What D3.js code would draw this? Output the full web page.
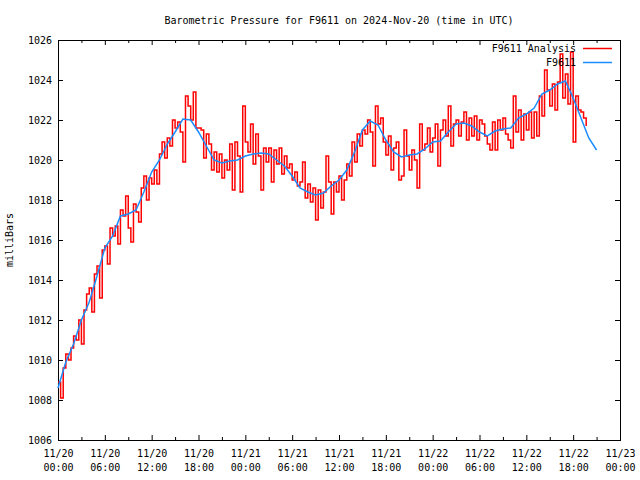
<!DOCTYPE html>
<html><head><meta charset="utf-8">
<script src="https://cdn.jsdelivr.net/npm/d3@7"></script>
<style>
body{margin:0;background:#fff}
svg{display:block}
text{font-family:"DejaVu Sans Mono","Liberation Mono",monospace;font-size:10px;fill:#000}
</style>
</head><body><svg id="c" width="640" height="480"></svg>
<script>
const chartTitle = "Barometric Pressure for F9611 on 2024-Nov-20 (time in UTC)";
const yAxisLabel = "milliBars";
const seriesNames = ["F9611 Analysis", "F9611"];
const xDomain = ["2024-11-20T00:00:00Z", "2024-11-23T00:00:00Z"];
const yDomain = [1006, 1026];
const yTickValues = [1006, 1008, 1010, 1012, 1014, 1016, 1018, 1020, 1022, 1024, 1026];
const xMajorHours = 6, xMinorHours = 3;

// F9611 Analysis: one value every 20 minutes from 11/20 00:00
const analysisStart = "2024-11-20T00:00:00Z";
const analysisStepMinutes = 20;
const analysisValues = [
1008.9,1008.1,1009.6, 1010.3,1010.0,1010.6, 1011.2,1011.0,1012.0, 1010.8,1012.5,1013.3,
1013.6,1012.4,1014.3, 1014.7,1013.1,1015.5, 1015.7,1014.8,1016.6, 1016.2,1016.7,1015.8,
1017.5,1017.2,1018.2, 1016.6,1015.9,1017.8, 1017.4,1016.9,1018.6, 1019.2,1018.0,1019.1,
1018.8,1019.5,1018.8, 1020.3,1020.9,1020.1, 1021.1,1020.7,1022.0, 1021.6,1021.9,1021.4,
1019.9,1023.2,1022.7, 1022.0,1023.4,1021.6, 1021.6,1021.5,1020.1, 1021.3,1020.8,1019.5,
1020.4,1019.4,1020.3, 1019.1,1020.0,1019.5, 1020.8,1018.5,1020.9, 1020.2,1018.4,1022.7,
1020.9,1020.4,1021.8, 1019.8,1021.3,1020.2, 1018.5,1020.6,1019.9, 1020.6,1018.9,1020.5,
1019.8,1020.6,1019.3, 1020.2,1019.6,1019.8, 1019.0,1019.4,1018.7, 1018.9,1019.9,1018.1,
1018.8,1017.9,1018.6, 1017.0,1018.5,1017.6, 1018.4,1020.2,1018.9, 1017.3,1018.9,1018.4,
1019.2,1018.0,1019.0, 1019.8,1019.2,1020.9, 1019.9,1021.3,1020.7, 1021.5,1021.3,1022.0,
1021.4,1019.7,1022.7, 1021.8,1022.1,1020.9, 1020.25,1021.2,1019.5, 1020.6,1020.9,1019.0,
1019.2,1021.5,1020.2, 1019.5,1020.5,1020.0, 1018.6,1021.8,1020.5, 1020.8,1021.6,1020.4,
1021.1,1021.8,1019.7, 1021.5,1022.0,1021.2, 1022.7,1020.7,1021.8, 1022.0,1021.2,1021.9,
1022.4,1021.0,1022.1, 1021.2,1022.2,1021.0, 1022.0,1021.8,1021.2, 1020.8,1020.5,1021.9,
1020.5,1022.0,1021.5, 1022.1,1021.3,1021.0, 1020.6,1023.2,1021.4, 1022.5,1021.0,1022.3,
1021.5,1022.4,1021.1, 1022.4,1021.2,1023.2, 1022.2,1024.5,1023.5, 1022.7,1023.8,1022.5,
1023.9,1025.3,1023.1, 1024.3,1022.8,1025.4, 1020.9,1023.2,1022.5, 1022.4,1022.1,1021.7
];

// F9611 station: one value every hour from 11/20 00:00
const stationStart = "2024-11-20T00:00:00Z";
const stationStepMinutes = 60;
const stationValues = [
1008.6,1009.9,1010.8,1012.0,1012.9,1014.2,1015.6,1016.2,1017.2,1017.3,
1017.5,1018.4,1019.4,1020.0,1020.8,1021.4,1022.05,1022.0,1021.4,1020.7,
1020.0,1019.85,1019.95,1020.0,1020.2,1020.3,1020.35,1020.3,1020.0,1019.7,
1019.2,1018.6,1018.4,1018.25,1018.35,1018.7,1019.0,1019.5,1020.4,1021.5,
1021.95,1021.75,1021.0,1020.4,1020.15,1020.25,1020.3,1020.55,1020.9,1020.95,
1021.4,1021.8,1021.85,1021.7,1021.4,1021.2,1021.45,1021.55,1021.6,1022.1,
1022.3,1022.6,1023.3,1023.5,1023.8,1023.95,1023.1,1022.1,1021.1,1020.5
];

const colors = ["#ff0000", "#1a8cff"];

const m = {left: 58, right: 620, top: 40, bottom: 440};
const svg = d3.select("#c");

const x = d3.scaleUtc().domain(xDomain.map(d => new Date(d))).range([m.left, m.right]);
const y = d3.scaleLinear().domain(yDomain).range([m.bottom, m.top]);

function toSeries(start, stepMin, vals) {
  const t0 = new Date(start).getTime();
  return vals.map((v, i) => ({t: new Date(t0 + i * stepMin * 60000), v}));
}
const analysis = toSeries(analysisStart, analysisStepMinutes, analysisValues);
const station = toSeries(stationStart, stationStepMinutes, stationValues);

const majorTicks = d3.utcHour.every(xMajorHours).range(x.domain()[0], new Date(x.domain()[1].getTime() + 1));
const minorTicks = d3.utcHour.every(xMinorHours).range(x.domain()[0], new Date(x.domain()[1].getTime() + 1))
  .filter(d => d.getUTCHours() % xMajorHours !== 0);

// Axes
const gB = svg.append("g").attr("transform", `translate(0,${m.bottom})`)
  .call(d3.axisBottom(x).tickValues(majorTicks).tickSizeInner(-5).tickSizeOuter(0).tickFormat(""));
gB.selectAll(".tick").each(function(d) {
  const t = d3.select(this).select("text");
  t.attr("y", null).attr("dy", null);
  t.append("tspan").attr("x", 0).attr("y", 17).text(d3.utcFormat("%m/%d")(d));
  t.append("tspan").attr("x", 0).attr("y", 31).text(d3.utcFormat("%H:%M")(d));
});
svg.append("g").attr("transform", `translate(0,${m.bottom})`)
  .call(d3.axisBottom(x).tickValues(minorTicks).tickSizeInner(-3).tickSizeOuter(0).tickFormat(""));
svg.append("g").attr("transform", `translate(0,${m.top})`)
  .call(d3.axisTop(x).tickValues(majorTicks).tickSizeInner(-5).tickSizeOuter(0).tickFormat(""));
svg.append("g").attr("transform", `translate(0,${m.top})`)
  .call(d3.axisTop(x).tickValues(minorTicks).tickSizeInner(-3).tickSizeOuter(0).tickFormat(""));
svg.append("g").attr("transform", `translate(${m.left},0)`)
  .call(d3.axisLeft(y).tickValues(yTickValues).tickSizeInner(-5).tickSizeOuter(0).tickPadding(6).tickFormat(d3.format("d")));
svg.append("g").attr("transform", `translate(${m.right},0)`)
  .call(d3.axisRight(y).tickValues(yTickValues).tickSizeInner(-5).tickSizeOuter(0).tickFormat(""));
svg.selectAll(".domain").remove();
svg.selectAll(".tick line").attr("stroke", "#000");
svg.selectAll(".tick text").attr("font-family", null).attr("font-size", null).attr("fill", "#000");

svg.append("rect").attr("x", m.left + 0.5).attr("y", m.top + 0.5)
  .attr("width", m.right - m.left).attr("height", m.bottom - m.top)
  .attr("fill", "none").attr("stroke", "#000").attr("stroke-width", 1);

// Lines
svg.append("path").datum(analysis)
  .attr("fill", "none").attr("stroke", colors[0]).attr("stroke-width", 1.5)
  .attr("d", d3.line().x(d => x(d.t)).y(d => y(d.v)).curve(d3.curveStepAfter));
svg.append("path").datum(station)
  .attr("fill", "none").attr("stroke", colors[1]).attr("stroke-width", 1.5)
  .attr("d", d3.line().x(d => x(d.t)).y(d => y(d.v)));

// Title and labels
svg.append("text").attr("x", (m.left + m.right) / 2).attr("y", 24)
  .attr("text-anchor", "middle").text(chartTitle);
svg.append("text").attr("transform", `translate(13,${(m.top + m.bottom) / 2}) rotate(-90)`)
  .attr("text-anchor", "middle").text(yAxisLabel);

// Legend
const leg = svg.append("g");
seriesNames.forEach((name, i) => {
  const ly = 48 + i * 14;
  leg.append("text").attr("x", 576).attr("y", ly).attr("dy", "0.35em")
    .attr("text-anchor", "end").text(name);
  leg.append("line").attr("x1", 583).attr("x2", 612).attr("y1", ly + 0.5).attr("y2", ly + 0.5)
    .attr("stroke", colors[i]).attr("stroke-width", 1.5);
});
</script>
</body></html>
